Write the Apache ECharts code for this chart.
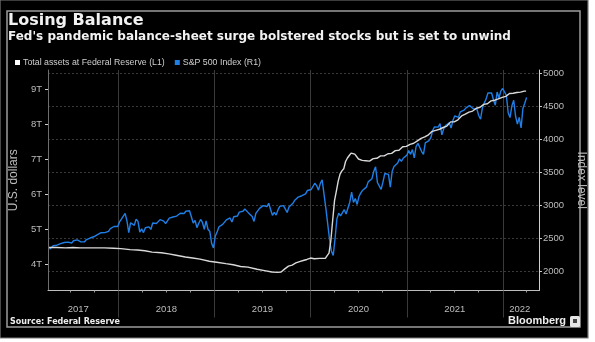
<!DOCTYPE html>
<html>
<head>
<meta charset="utf-8">
<script src="https://cdn.jsdelivr.net/npm/echarts@6/dist/echarts.min.js"></script>
<style>
  html, body { margin: 0; padding: 0; background: #ffffff; }
  #chart { width: 595px; height: 342px; }
</style>
</head>
<body>
<div id="chart"></div>
<script>
// Total assets held by the Federal Reserve, trillions of US dollars (left axis)
const fedAssets = [
  ['2017-04-12', 4.47], ['2017-05-10', 4.47], ['2017-06-14', 4.46], ['2017-07-12', 4.47],
  ['2017-08-09', 4.46], ['2017-09-13', 4.46], ['2017-10-11', 4.46], ['2017-11-08', 4.46],
  ['2017-12-13', 4.45], ['2018-01-10', 4.44], ['2018-02-14', 4.41], ['2018-03-14', 4.40],
  ['2018-04-11', 4.38], ['2018-05-09', 4.34], ['2018-06-13', 4.32], ['2018-07-11', 4.29],
  ['2018-08-08', 4.25], ['2018-09-12', 4.20], ['2018-10-10', 4.17], ['2018-11-07', 4.14],
  ['2018-12-12', 4.08], ['2019-01-09', 4.05], ['2019-02-13', 4.01], ['2019-03-13', 3.98],
  ['2019-04-10', 3.93], ['2019-05-08', 3.91], ['2019-06-12', 3.85], ['2019-07-10', 3.81],
  ['2019-08-07', 3.77], ['2019-08-28', 3.76], ['2019-09-11', 3.77], ['2019-09-25', 3.86],
  ['2019-10-09', 3.94], ['2019-10-23', 3.97], ['2019-11-06', 4.03], ['2019-11-20', 4.07],
  ['2019-12-04', 4.10], ['2019-12-18', 4.13], ['2020-01-01', 4.17], ['2020-01-15', 4.15],
  ['2020-02-05', 4.16], ['2020-02-26', 4.16], ['2020-03-04', 4.24], ['2020-03-11', 4.31],
  ['2020-03-18', 4.67], ['2020-03-25', 5.25], ['2020-04-01', 5.81], ['2020-04-08', 6.08],
  ['2020-04-15', 6.37], ['2020-04-22', 6.57], ['2020-04-29', 6.66], ['2020-05-06', 6.72],
  ['2020-05-13', 6.93], ['2020-05-20', 7.03], ['2020-05-27', 7.10], ['2020-06-03', 7.17],
  ['2020-06-10', 7.17], ['2020-06-17', 7.14], ['2020-06-24', 7.09], ['2020-07-01', 7.00],
  ['2020-07-15', 6.96], ['2020-07-29', 6.95], ['2020-08-12', 6.94], ['2020-08-26', 7.01],
  ['2020-09-09', 7.02], ['2020-09-23', 7.09], ['2020-10-07', 7.09], ['2020-10-21', 7.15],
  ['2020-11-04', 7.16], ['2020-11-18', 7.24], ['2020-12-02', 7.25], ['2020-12-16', 7.35],
  ['2020-12-30', 7.36], ['2021-01-13', 7.42], ['2021-01-27', 7.45], ['2021-02-10', 7.52],
  ['2021-02-24', 7.59], ['2021-03-10', 7.63], ['2021-03-24', 7.69], ['2021-04-07', 7.79],
  ['2021-04-21', 7.82], ['2021-05-05', 7.85], ['2021-05-19', 7.90], ['2021-06-02', 7.94],
  ['2021-06-16', 8.06], ['2021-06-30', 8.06], ['2021-07-14', 8.12], ['2021-07-28', 8.23],
  ['2021-08-11', 8.28], ['2021-08-25', 8.34], ['2021-09-08', 8.37], ['2021-09-22', 8.45],
  ['2021-10-06', 8.48], ['2021-10-20', 8.56], ['2021-11-03', 8.58], ['2021-11-17', 8.66],
  ['2021-12-01', 8.68], ['2021-12-15', 8.72], ['2021-12-29', 8.76], ['2022-01-12', 8.79],
  ['2022-01-26', 8.87], ['2022-02-09', 8.88], ['2022-02-23', 8.90], ['2022-03-09', 8.91],
  ['2022-03-23', 8.94], ['2022-03-30', 8.94]
];

// S&P 500 index level, weekly (right axis)
const spx2017 = [
  ['2017-04-14', 2329], ['2017-04-21', 2349], ['2017-04-28', 2384], ['2017-05-05', 2399],
  ['2017-05-12', 2391], ['2017-05-19', 2382], ['2017-05-26', 2416], ['2017-06-02', 2439],
  ['2017-06-09', 2432], ['2017-06-16', 2433], ['2017-06-23', 2438], ['2017-06-30', 2423],
  ['2017-07-07', 2425], ['2017-07-14', 2459], ['2017-07-21', 2473], ['2017-07-28', 2472],
  ['2017-08-04', 2477], ['2017-08-11', 2441], ['2017-08-18', 2426], ['2017-08-25', 2443],
  ['2017-09-01', 2477], ['2017-09-08', 2461], ['2017-09-15', 2500], ['2017-09-22', 2502],
  ['2017-09-29', 2519], ['2017-10-06', 2549], ['2017-10-13', 2553], ['2017-10-20', 2575],
  ['2017-10-27', 2581], ['2017-11-03', 2588], ['2017-11-10', 2582], ['2017-11-17', 2579],
  ['2017-11-24', 2602], ['2017-12-01', 2642], ['2017-12-08', 2652], ['2017-12-15', 2675],
  ['2017-12-22', 2683], ['2017-12-29', 2674]
];
const spx2018 = [
  ['2018-01-05', 2743], ['2018-01-12', 2786], ['2018-01-19', 2810], ['2018-01-26', 2873],
  ['2018-02-02', 2762], ['2018-02-09', 2581], ['2018-02-16', 2732], ['2018-02-23', 2747],
  ['2018-03-02', 2691], ['2018-03-09', 2786], ['2018-03-16', 2752], ['2018-03-23', 2588],
  ['2018-03-30', 2641], ['2018-04-06', 2582], ['2018-04-13', 2656], ['2018-04-20', 2670],
  ['2018-04-27', 2670], ['2018-05-04', 2630], ['2018-05-11', 2728], ['2018-05-18', 2713],
  ['2018-05-25', 2721], ['2018-06-01', 2735], ['2018-06-08', 2779], ['2018-06-15', 2780],
  ['2018-06-22', 2755], ['2018-06-29', 2718], ['2018-07-06', 2760], ['2018-07-13', 2801],
  ['2018-07-20', 2802], ['2018-07-27', 2819], ['2018-08-03', 2840], ['2018-08-10', 2833],
  ['2018-08-17', 2850], ['2018-08-24', 2875], ['2018-08-31', 2902], ['2018-09-07', 2872],
  ['2018-09-14', 2905], ['2018-09-21', 2930], ['2018-09-28', 2914], ['2018-10-05', 2886],
  ['2018-10-12', 2728], ['2018-10-19', 2768], ['2018-10-26', 2658], ['2018-11-02', 2723],
  ['2018-11-09', 2781], ['2018-11-16', 2736], ['2018-11-23', 2633], ['2018-11-30', 2760],
  ['2018-12-07', 2633], ['2018-12-14', 2600], ['2018-12-21', 2417], ['2018-12-28', 2351]
];
const spx2019 = [
  ['2019-01-04', 2532], ['2019-01-11', 2596], ['2019-01-18', 2671], ['2019-01-25', 2665],
  ['2019-02-01', 2707], ['2019-02-08', 2708], ['2019-02-15', 2776], ['2019-02-22', 2793],
  ['2019-03-01', 2804], ['2019-03-08', 2743], ['2019-03-15', 2822], ['2019-03-22', 2800],
  ['2019-03-29', 2834], ['2019-04-05', 2893], ['2019-04-12', 2907], ['2019-04-19', 2905],
  ['2019-04-26', 2940], ['2019-05-03', 2946], ['2019-05-10', 2881], ['2019-05-17', 2860],
  ['2019-05-24', 2826], ['2019-05-31', 2752], ['2019-06-07', 2873], ['2019-06-14', 2887],
  ['2019-06-21', 2950], ['2019-06-28', 2942], ['2019-07-05', 2990], ['2019-07-12', 3014],
  ['2019-07-19', 2977], ['2019-07-26', 3026], ['2019-08-02', 2932], ['2019-08-09', 2844],
  ['2019-08-16', 2889], ['2019-08-23', 2847], ['2019-08-30', 2926], ['2019-09-06', 2979],
  ['2019-09-13', 3007], ['2019-09-20', 2992], ['2019-09-27', 2962], ['2019-10-04', 2887],
  ['2019-10-11', 2970], ['2019-10-18', 2986], ['2019-10-25', 3023], ['2019-11-01', 3067],
  ['2019-11-08', 3093], ['2019-11-15', 3120], ['2019-11-22', 3110], ['2019-11-29', 3141],
  ['2019-12-06', 3146], ['2019-12-13', 3169], ['2019-12-20', 3221], ['2019-12-27', 3240]
];
const spx2020 = [
  ['2020-01-03', 3235], ['2020-01-10', 3265], ['2020-01-17', 3330], ['2020-01-24', 3295],
  ['2020-01-31', 3226], ['2020-02-07', 3328], ['2020-02-14', 3380], ['2020-02-21', 3386],
  ['2020-02-28', 2954], ['2020-03-06', 2972], ['2020-03-13', 2481], ['2020-03-20', 2305],
  ['2020-03-27', 2237], ['2020-04-03', 2489], ['2020-04-10', 2790], ['2020-04-17', 2875],
  ['2020-04-24', 2837], ['2020-05-01', 2831], ['2020-05-08', 2930], ['2020-05-15', 2864],
  ['2020-05-22', 2955], ['2020-05-29', 3044], ['2020-06-05', 3194], ['2020-06-12', 3041],
  ['2020-06-19', 3098], ['2020-06-26', 3009], ['2020-07-03', 3130], ['2020-07-10', 3185],
  ['2020-07-17', 3225], ['2020-07-24', 3216], ['2020-07-31', 3271], ['2020-08-07', 3351],
  ['2020-08-14', 3373], ['2020-08-21', 3397], ['2020-08-28', 3508], ['2020-09-04', 3580],
  ['2020-09-11', 3341], ['2020-09-18', 3319], ['2020-09-25', 3237], ['2020-10-02', 3348],
  ['2020-10-09', 3477], ['2020-10-16', 3484], ['2020-10-23', 3465], ['2020-10-30', 3270],
  ['2020-11-06', 3510], ['2020-11-13', 3585], ['2020-11-20', 3558], ['2020-11-27', 3638],
  ['2020-12-04', 3699], ['2020-12-11', 3663], ['2020-12-18', 3709], ['2020-12-25', 3703]
];
const spx2021 = [
  ['2021-01-01', 3756], ['2021-01-08', 3825], ['2021-01-15', 3768], ['2021-01-22', 3841],
  ['2021-01-29', 3714], ['2021-02-05', 3887], ['2021-02-12', 3934], ['2021-02-19', 3907],
  ['2021-02-26', 3811], ['2021-03-05', 3768], ['2021-03-12', 3943], ['2021-03-19', 3913],
  ['2021-03-26', 3975], ['2021-04-02', 4020], ['2021-04-09', 4129], ['2021-04-16', 4185],
  ['2021-04-23', 4180], ['2021-04-30', 4181], ['2021-05-07', 4233], ['2021-05-14', 4063],
  ['2021-05-21', 4156], ['2021-05-28', 4204], ['2021-06-04', 4230], ['2021-06-11', 4247],
  ['2021-06-18', 4166], ['2021-06-25', 4281], ['2021-07-02', 4352], ['2021-07-09', 4370],
  ['2021-07-16', 4327], ['2021-07-23', 4412], ['2021-07-30', 4395], ['2021-08-06', 4437],
  ['2021-08-13', 4468], ['2021-08-20', 4442], ['2021-08-27', 4509], ['2021-09-03', 4535],
  ['2021-09-10', 4459], ['2021-09-17', 4433], ['2021-09-24', 4455], ['2021-10-01', 4357],
  ['2021-10-08', 4300], ['2021-10-15', 4471], ['2021-10-22', 4545], ['2021-10-29', 4605],
  ['2021-11-05', 4697], ['2021-11-12', 4683], ['2021-11-19', 4698], ['2021-11-26', 4595],
  ['2021-12-03', 4513], ['2021-12-10', 4712], ['2021-12-17', 4621], ['2021-12-24', 4726],
  ['2021-12-31', 4766]
];
const spx2022 = [
  ['2022-01-07', 4796], ['2022-01-14', 4663], ['2022-01-21', 4398], ['2022-01-28', 4326],
  ['2022-02-04', 4501], ['2022-02-11', 4587], ['2022-02-18', 4349], ['2022-02-25', 4226],
  ['2022-03-04', 4329], ['2022-03-11', 4170], ['2022-03-18', 4463], ['2022-03-25', 4543],
  ['2022-04-01', 4631]
];

// Axis ticks and labels
const leftTicks = [4, 5, 6, 7, 8, 9];
const rightTicks = [2000, 2500, 3000, 3500, 4000, 4500, 5000];
const yearStarts = ['2018-01-01', '2019-01-01', '2020-01-01', '2021-01-01', '2022-01-01'];
const quarterStarts = [
  '2017-07-01', '2017-10-01', '2018-04-01', '2018-07-01', '2018-10-01',
  '2019-04-01', '2019-07-01', '2019-10-01', '2020-04-01', '2020-07-01', '2020-10-01',
  '2021-04-01', '2021-07-01', '2021-10-01', '2022-04-01'
];
const yearLabelAt = ['2017-08-01', '2018-07-02', '2019-07-02', '2020-07-01', '2021-07-02', '2022-03-06'];

const seriesNames = ['Total assets at Federal Reserve (L1)', 'S&P 500 Index (R1)'];

const spxAll = [].concat(spx2017, spx2018, spx2019, spx2020, spx2021, spx2022);
const toTime = (s) => Date.parse(s + 'T00:00:00Z');

const chart = echarts.init(document.getElementById('chart'), null, { renderer: 'canvas' });

const axisFont = 'Liberation Sans, Arial, sans-serif';
const xMin = toTime('2017-04-08');
const xMax = toTime('2022-05-18');

const option = {
  backgroundColor: 'transparent',
  animation: false,
  graphic: [
    { type: 'rect', z: -10, shape: { x: 0, y: 0, width: 588, height: 338 },
      style: { fill: '#000000', stroke: '#7a7a7a', lineWidth: 1.2 } },
    { type: 'rect', z: -9, shape: { x: 7, y: 11, width: 573, height: 316 },
      style: { fill: 'none', stroke: '#9c9c9c', lineWidth: 1.5 } },
    { type: 'text', left: 8, top: 13, z: 10,
      style: { text: 'Losing Balance', fill: '#f2f2f2',
               font: 'bold 16px "DejaVu Sans", sans-serif' } },
    { type: 'text', left: 8, top: 31, z: 10,
      style: { text: "Fed's pandemic balance-sheet surge bolstered stocks but is set to unwind",
               fill: '#f2f2f2', font: 'bold 12px "DejaVu Sans", sans-serif' } },
    { type: 'text', left: 10, top: 318, z: 10,
      style: { text: 'Source: Federal Reserve', fill: '#eeeeee',
               font: 'bold 8px "DejaVu Sans", sans-serif' } },
    { type: 'text', left: 508, top: 315, z: 10,
      style: { text: 'Bloomberg', fill: '#eeeeee',
               font: 'bold 11px "Liberation Sans", Arial, sans-serif' } },
    { type: 'rect', z: 10, shape: { x: 570, y: 316, width: 10, height: 11, r: 1.5 },
      style: { fill: '#e6e6e6' } },
    { type: 'rect', z: 11, shape: { x: 573, y: 319, width: 4, height: 4 },
      style: { fill: '#444444' } }
  ],
  legend: {
    left: 10, top: 53,
    icon: 'rect', itemWidth: 5, itemHeight: 5, itemGap: 10,
    textStyle: { color: '#cfcfcf', fontSize: 8.8, fontFamily: axisFont, padding: [0, 0, 0, -2] },
    data: [
      { name: seriesNames[0], itemStyle: { color: '#ffffff' } },
      { name: seriesNames[1], itemStyle: { color: '#1f7fe6' } }
    ]
  },
  grid: { left: 45.5, right: 56, top: 70, bottom: 51.5, containLabel: false },
  xAxis: [
    {
      type: 'value', min: xMin, max: xMax, scale: true,
      axisLine: { show: true, lineStyle: { color: '#bdbdbd', width: 1 } },
      axisTick: { show: true, length: 2, customValues: quarterStarts.map(toTime),
                  lineStyle: { color: '#9a9a9a' } },
      axisLabel: {
        show: true, customValues: yearLabelAt.map(toTime), margin: 14,
        color: '#bdbdbd', fontSize: 9.5, fontFamily: axisFont,
        formatter: (v) => String(new Date(v).getUTCFullYear())
      },
      splitLine: { show: false }
    },
    {
      type: 'value', min: xMin, max: xMax, scale: true, position: 'bottom',
      axisLine: { show: false },
      axisTick: { show: true, length: 27, customValues: yearStarts.map(toTime),
                  lineStyle: { color: '#3a3a3a' } },
      axisLabel: { show: false },
      splitLine: { show: true, lineStyle: { color: '#3a3a3a', width: 1 } }
    }
  ],
  yAxis: [
    {
      type: 'value', position: 'left', min: 3.243, max: 9.543,
      name: 'U.S. dollars', nameLocation: 'middle', nameRotate: 90, nameGap: 26,
      nameTextStyle: { color: '#bdbdbd', fontSize: 12, fontFamily: axisFont },
      axisLine: { show: true, lineStyle: { color: '#6e6e6e' } },
      axisTick: { show: true, length: 3, customValues: leftTicks, lineStyle: { color: '#cfcfcf' } },
      axisLabel: { customValues: leftTicks, formatter: (v) => v + 'T', margin: 6,
                   color: '#bdbdbd', fontSize: 9.5, fontFamily: axisFont },
      splitLine: { show: false }
    },
    {
      type: 'value', position: 'right', min: 1705, max: 5046,
      name: 'Index level', nameLocation: 'middle', nameRotate: -90, nameGap: 30,
      nameTextStyle: { color: '#bdbdbd', fontSize: 12, fontFamily: axisFont },
      axisLine: { show: true, lineStyle: { color: '#cfcfcf' } },
      axisTick: { show: true, length: 3, customValues: rightTicks, lineStyle: { color: '#cfcfcf' } },
      axisLabel: { customValues: rightTicks, margin: 4, formatter: (v) => String(v),
                   color: '#bdbdbd', fontSize: 9.5, fontFamily: axisFont },
      splitLine: { show: true, lineStyle: { color: '#3a3a3a', width: 1, type: [2, 2] } }
    }
  ],
  series: [
    {
      name: seriesNames[0], type: 'line', xAxisIndex: 0, yAxisIndex: 0, z: 4,
      showSymbol: false, symbol: 'none',
      lineStyle: { color: '#d9d9d9', width: 1.4 },
      itemStyle: { color: '#ffffff' },
      data: fedAssets.map(([d, v]) => [toTime(d), v])
    },
    {
      name: seriesNames[1], type: 'line', xAxisIndex: 0, yAxisIndex: 1, z: 3,
      showSymbol: false, symbol: 'none',
      lineStyle: { color: '#1f7fe6', width: 1.4 },
      itemStyle: { color: '#1f7fe6' },
      data: spxAll.map(([d, v]) => [toTime(d), v])
    }
  ]
};

chart.setOption(option);
</script>
</body>
</html>
